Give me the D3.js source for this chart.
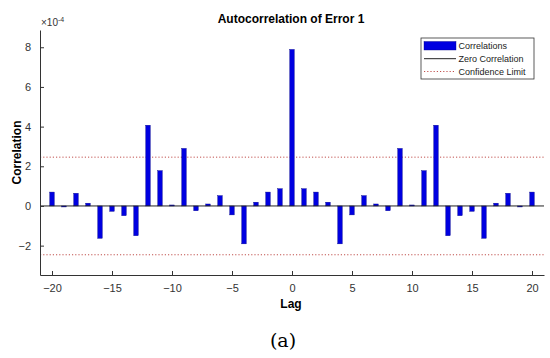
<!DOCTYPE html>
<html>
<head>
<meta charset="utf-8">
<script src="https://cdn.jsdelivr.net/npm/d3@7"></script>
<style>
  body { margin: 0; background: #fff; }
  svg { font-family: "Liberation Sans", Arial, sans-serif; }
  .axis path, .axis line { stroke: #333; }
  .axis text { fill: #333; font-size: 11px; }
</style>
</head>
<body>
<div id="chart"></div>
<script>
// lags and autocorrelation values (x 1e-4)
var lags = d3.range(-20, 21);
var corr = [0.70, -0.05, 0.64, 0.14, -1.63, -0.27, -0.49, -1.50, 4.07, 1.78,
            0.05, 2.90, -0.24, 0.10, 0.52, -0.45, -1.91, 0.19, 0.70, 0.87,
            7.89,
            0.87, 0.70, 0.19, -1.91, -0.45, 0.52, 0.10, -0.24, 2.90, 0.05,
            1.78, 4.07, -1.50, -0.49, -0.27, -1.63, 0.14, 0.64, -0.05, 0.70];
var confLimit = 2.46;
var xTicks = [-20, -15, -10, -5, 0, 5, 10, 15, 20];
var yTicks = [-2, 0, 2, 4, 6, 8];
var legendItems = ["Correlations", "Zero Correlation", "Confidence Limit"];

var data = lags.map(function(l, i) { return {lag: l, v: corr[i]}; });

var W = 550, H = 358;
var margin = {top: 30, right: 6, bottom: 83, left: 40};
var width = W - margin.left - margin.right;
var height = H - margin.top - margin.bottom;

var x = d3.scaleLinear().domain([-21, 21]).range([0, width]);
var y = d3.scaleLinear().domain([-3.48, 8.87]).range([height, 0]);

var svg = d3.select("#chart").append("svg")
    .attr("width", W)
    .attr("height", H);
var g = svg.append("g")
    .attr("transform", "translate(" + margin.left + "," + margin.top + ")");

// confidence limits
[confLimit, -confLimit].forEach(function(c) {
  g.append("line")
    .attr("x1", 0).attr("x2", width)
    .attr("y1", y(c)).attr("y2", y(c))
    .attr("stroke", "#c0504d")
    .attr("stroke-width", 1)
    .attr("stroke-dasharray", "1.2,2");
});

// bars
var bw = 4.5;
g.selectAll("rect.bar")
  .data(data)
  .enter().append("rect")
  .attr("class", "bar")
  .attr("x", function(d) { return x(d.lag) - bw / 2; })
  .attr("width", bw)
  .attr("y", function(d) { return y(Math.max(0, d.v)); })
  .attr("height", function(d) { return Math.max(1, Math.abs(y(d.v) - y(0))); })
  .attr("fill", "#0000e0")
  .attr("stroke", "#00008b")
  .attr("stroke-width", 0.4);

// zero line
g.append("line")
  .attr("x1", 0).attr("x2", width)
  .attr("y1", y(0)).attr("y2", y(0))
  .attr("stroke", "#222").attr("stroke-width", 1);

// axes
var xAxis = d3.axisBottom(x).tickValues(xTicks).tickSizeInner(-4).tickSizeOuter(0).tickPadding(9);
var yAxis = d3.axisLeft(y).tickValues(yTicks).tickSizeInner(-4).tickSizeOuter(0).tickPadding(9);

g.append("g").attr("class", "x axis")
  .attr("transform", "translate(0," + height + ")")
  .call(xAxis);
g.append("g").attr("class", "y axis")
  .call(yAxis);

// exponent label
var ex = svg.append("text")
  .attr("x", margin.left + 1).attr("y", 25.5)
  .attr("font-size", 10).attr("fill", "#333");
ex.append("tspan").text("\u00d710");
ex.append("tspan").attr("dy", -4).attr("font-size", 7).text("-4");

// title
svg.append("text")
  .attr("x", 291).attr("y", 23)
  .attr("text-anchor", "middle")
  .attr("font-size", 12).attr("font-weight", "bold")
  .text("Autocorrelation of Error 1");

// axis labels
svg.append("text")
  .attr("x", 291).attr("y", 308)
  .attr("text-anchor", "middle")
  .attr("font-size", 12).attr("font-weight", "bold")
  .text("Lag");
svg.append("text")
  .attr("transform", "translate(21," + (margin.top + height / 2) + ") rotate(-90)")
  .attr("text-anchor", "middle")
  .attr("font-size", 12).attr("font-weight", "bold")
  .text("Correlation");

// legend
var lg = svg.append("g").attr("transform", "translate(421,38)");
lg.append("rect").attr("width", 113).attr("height", 41)
  .attr("fill", "#fff").attr("stroke", "#333").attr("stroke-width", 0.8);
lg.append("rect").attr("x", 3).attr("y", 3.5).attr("width", 32).attr("height", 8.5)
  .attr("fill", "#0000e0").attr("stroke", "#00008b").attr("stroke-width", 0.4);
lg.append("line").attr("x1", 3).attr("x2", 35).attr("y1", 20.7).attr("y2", 20.7)
  .attr("stroke", "#222");
lg.append("line").attr("x1", 3).attr("x2", 35).attr("y1", 33.5).attr("y2", 33.5)
  .attr("stroke", "#c0504d").attr("stroke-dasharray", "1.2,2");
lg.selectAll("text.leg")
  .data(legendItems)
  .enter().append("text")
  .attr("class", "leg")
  .attr("x", 37.5)
  .attr("y", function(d, i) { return 11 + i * 12.8; })
  .attr("font-size", 9).attr("fill", "#222")
  .text(function(d) { return d; });

// panel label
svg.append("text")
  .attr("x", 283).attr("y", 347)
  .attr("text-anchor", "middle")
  .attr("font-family", "'DejaVu Serif', 'Liberation Serif', serif")
  .attr("font-size", 19)
  .text("(a)");
</script>
</body>
</html>
